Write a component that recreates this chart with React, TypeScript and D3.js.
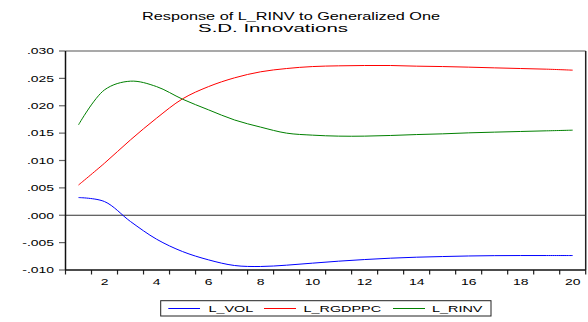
import React from "react";
import * as d3 from "d3";

const periods = d3.range(1, 21);
const seriesNames = ["L_VOL", "L_RGDPPC", "L_RINV"];
const seriesColors = ["#0000ff", "#ff0000", "#008000"];

const lVol = [0.00323, 0.0025, -0.00115, -0.00437, -0.00663, -0.00815, -0.00918, -0.00936, -0.00912, -0.00875,
  -0.00839, -0.00809, -0.00784, -0.00766, -0.00754, -0.00744, -0.00738, -0.00736, -0.00736, -0.00736];
const lRgdppc = [0.00552, 0.00951, 0.01377, 0.01773, 0.02126, 0.0235, 0.0251, 0.0262, 0.0268, 0.02716,
  0.02729, 0.02735, 0.02735, 0.02723, 0.02716, 0.02705, 0.02692, 0.0268, 0.02668, 0.0265];
const lRinv = [0.01651, 0.0229, 0.02449, 0.0235, 0.0212, 0.01925, 0.0174, 0.0161, 0.015, 0.01463,
  0.01445, 0.01445, 0.01457, 0.01474, 0.01487, 0.01505, 0.01518, 0.0153, 0.01542, 0.01554];
const seriesValues = [lVol, lRgdppc, lRinv];

const yTicks = [0.03, 0.025, 0.02, 0.015, 0.01, 0.005, 0, -0.005, -0.01];
const xTickLabels = [2, 4, 6, 8, 10, 12, 14, 16, 18, 20];
const titleLines = ["Response of L_RINV to Generalized One", "S.D. Innovations"];

const FONT = "'Liberation Sans', Arial, sans-serif";

function fmt(v: number) {
  if (Math.abs(v) < 1e-9) return ".000";
  const s = Math.abs(v).toFixed(3).replace(/^0/, "");
  return (v < 0 ? "-" : "") + s;
}

function SText({ x, y, sx, size, anchor, children }: any) {
  return (
    <text
      transform={`translate(${x},${y}) scale(${sx},1)`}
      textAnchor={anchor}
      fontFamily={FONT}
      fontSize={size}
      fill="#000"
    >
      {children}
    </text>
  );
}

export default function App() {
  const W = 588, H = 322;
  const left = 65.5, right = 585.7, top = 51, bottom = 270;
  const x = d3.scaleLinear().domain([0.5, 20.5]).range([left, right]);
  const y = d3.scaleLinear().domain([-0.01, 0.03]).range([bottom, top]);
  const line = d3
    .line<number>()
    .x((_, i) => x(periods[i]))
    .y((d) => y(d))
    .curve(d3.curveCatmullRom.alpha(0.5));

  const xTickPos = d3.range(0, 21).map((k) => k + 0.5);

  const legendItems = [
    { x0: 168.3, x1: 200, tx: 208.5 },
    { x0: 264, x1: 296, tx: 303.5 },
    { x0: 393, x1: 425, tx: 432 },
  ];

  return (
    <svg width={W} height={H} style={{ position: "absolute", left: 0, top: 0, background: "#fff" }}>
      <rect x={0} y={0} width={W} height={H} fill="#fff" />
      {/* title */}
      <text x={142} y={19.5} fontFamily={FONT} fontSize={11} textLength={298} lengthAdjust="spacingAndGlyphs">
        {titleLines[0]}
      </text>
      <text x={198} y={32} fontFamily={FONT} fontSize={11} textLength={150} lengthAdjust="spacingAndGlyphs">
        {titleLines[1]}
      </text>

      {/* frame */}
      <line x1={left} x2={right} y1={top} y2={top} stroke="#555" strokeWidth={1.2} />
      <line x1={right} x2={right} y1={top} y2={bottom} stroke="#222" strokeWidth={1.5} />

      {/* zero line */}
      <line x1={left} x2={right} y1={y(0)} y2={y(0)} stroke="#333" strokeWidth={1} />

      {/* y axis */}
      {yTicks.map((t) => (
        <g key={t}>
          <line x1={left - 6.5} x2={left} y1={y(t)} y2={y(t)} stroke="#666" strokeWidth={1.2} />
          <SText x={54} y={y(t) + 3.3} sx={1.55} size={9} anchor="end">
            {fmt(t)}
          </SText>
        </g>
      ))}
      <line x1={left} x2={left} y1={top} y2={bottom} stroke="#111" strokeWidth={1.5} />

      {/* x axis */}
      {xTickPos.map((t) => (
        <line key={t} x1={x(t)} x2={x(t)} y1={bottom} y2={bottom + 4.5} stroke="#222" strokeWidth={1.2} />
      ))}
      <line x1={left} x2={right} y1={bottom} y2={bottom} stroke="#111" strokeWidth={1.5} />
      {xTickLabels.map((t) => (
        <SText key={t} x={x(t)} y={285} sx={1.55} size={9} anchor="middle">
          {t}
        </SText>
      ))}

      {/* series */}
      {seriesValues.map((vals, i) => (
        <path key={i} d={line(vals) || ""} fill="none" stroke={seriesColors[i]} strokeWidth={1} />
      ))}

      {/* legend */}
      <rect x={160.7} y={300.7} width={330.3} height={15.3} fill="#fff" stroke="#222" strokeWidth={1} />
      {legendItems.map((it, i) => (
        <g key={i}>
          <line x1={it.x0} x2={it.x1} y1={308.5} y2={308.5} stroke={seriesColors[i]} strokeWidth={1} />
          <SText x={it.tx} y={312} sx={1.6} size={9} anchor="start">
            {seriesNames[i]}
          </SText>
        </g>
      ))}
    </svg>
  );
}
